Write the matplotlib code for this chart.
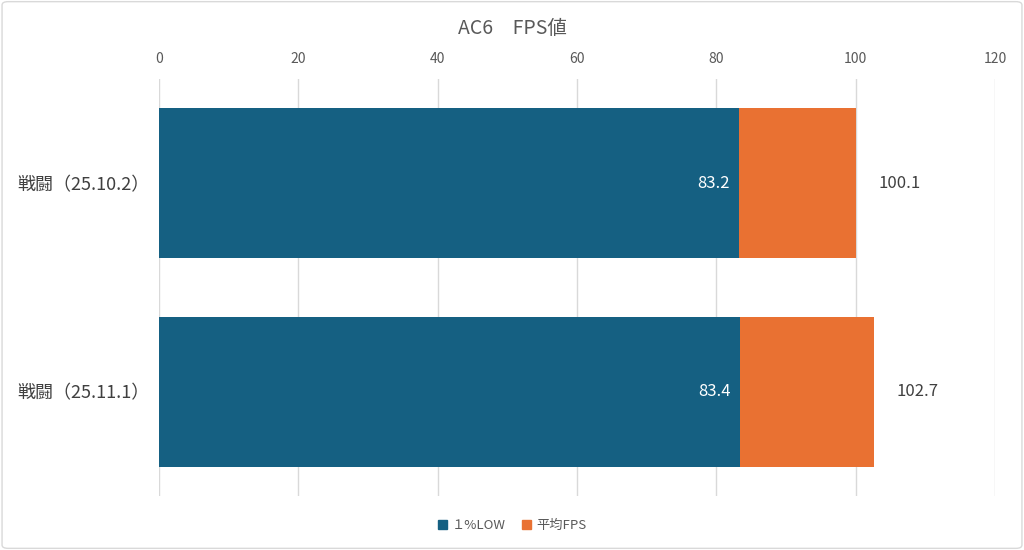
import matplotlib.pyplot as plt
from matplotlib.patches import FancyBboxPatch, Patch

plt.rcParams['font.family'] = ['Noto Sans CJK JP', 'DejaVu Sans']

categories = ["戦闘（25.10.2）", "戦闘（25.11.1）"]
low1 = [83.2, 83.4]
avg_fps = [100.1, 102.7]
xticks = [0, 20, 40, 60, 80, 100, 120]

blue = "#156082"
orange = "#E97132"
txt = "#595959"

fig = plt.figure(figsize=(10.24, 5.5), dpi=100)
fig.patches.append(FancyBboxPatch((0.002, 0.003), 0.996, 0.994,
                                  boxstyle="round,pad=0,rounding_size=0.006",
                                  transform=fig.transFigure, fill=False,
                                  edgecolor="#D9D9D9", linewidth=1))
ax = fig.add_axes([0.1553, 0.0982, 0.8164, 0.7582])

y = list(range(len(categories)))
ax.barh(y, avg_fps, height=0.72, color=orange, zorder=2)
ax.barh(y, low1, height=0.72, color=blue, zorder=3)

for i in y:
    ax.text(low1[i] - 1.3, i, f"{low1[i]:.1f}", color="white", fontsize=12,
            ha="right", va="center", zorder=4)
    ax.text(avg_fps[i] + 3.2, i, f"{avg_fps[i]:.1f}", color="#404040", fontsize=12,
            ha="left", va="center", zorder=4)

ax.set_xlim(0, 120)
ax.set_ylim(1.5, -0.5)
ax.set_xticks(xticks)
ax.set_yticks(y)
ax.set_yticklabels(categories)
ax.xaxis.tick_top()
ax.tick_params(axis="x", length=0, labelsize=10, labelcolor=txt, pad=9)
ax.tick_params(axis="y", length=0, labelsize=13, labelcolor="#404040", pad=7)
ax.grid(axis="x", color="#D9D9D9", linewidth=1, zorder=0)
for s in ax.spines.values():
    s.set_visible(False)

fig.text(0.5, 0.948, "AC6　FPS値", ha="center", va="center", fontsize=14, color=txt)

handles = [Patch(color=blue, label="１%LOW"), Patch(color=orange, label="平均FPS")]
fig.legend(handles=handles, loc="center", bbox_to_anchor=(0.5, 0.045), ncol=2,
           frameon=False, fontsize=9.5, labelcolor=txt, handlelength=0.7,
           handleheight=0.7, handletextpad=0.4, columnspacing=1.2)

fig.savefig("out.png", dpi=100)
